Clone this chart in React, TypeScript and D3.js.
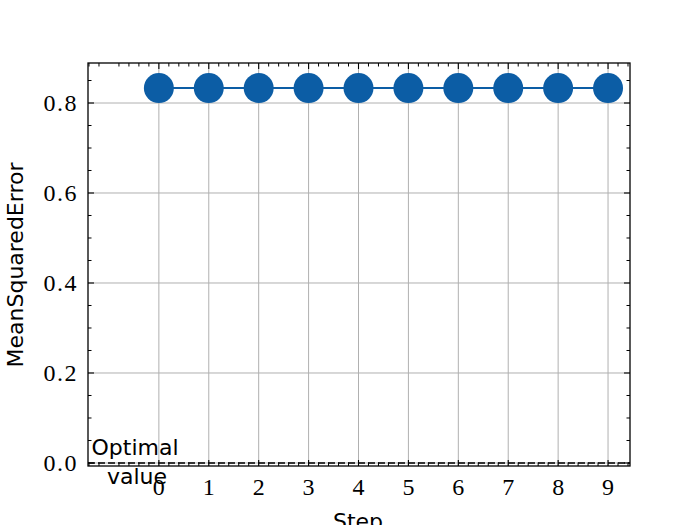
import React from "react";
import * as d3 from "d3";

const steps = [0, 1, 2, 3, 4, 5, 6, 7, 8, 9];
const mseValues = [0.8333, 0.8333, 0.8333, 0.8333, 0.8333, 0.8333, 0.8333, 0.8333, 0.8333, 0.8333];
const yTicks = [0, 0.2, 0.4, 0.6, 0.8];
const optimalValue = 0;

const W = 700, H = 525;
const L = 88, R = 630, T = 63, B = 466;
const COLOR = "#0C5DA5";

export default function App() {
  const x = d3.scaleLinear().domain([-1.42, 9.44]).range([L, R]);
  const y = d3.scaleLinear().domain([-0.0067, 0.8889]).range([B, T]);
  const line = d3.line<number>().x((_, i) => x(steps[i])).y((d) => y(d));

  const xMinor = d3.range(-7, 48).map((k) => k * 0.2).filter((v) => Math.abs(v - Math.round(v)) > 1e-6 && v > -1.42 && v < 9.44);
  const yMinor = d3.range(0, 18).map((k) => k * 0.05).filter((v) => Math.abs(v * 5 - Math.round(v * 5)) > 1e-6 && v < 0.8889);

  const serif = "'Liberation Serif', serif";
  const sans = "'DejaVu Sans', sans-serif";

  return (
    <svg width={W} height={H} style={{ position: "absolute", left: 0, top: 0 }}>
      <rect width={W} height={H} fill="white" />
      {/* grid */}
      {steps.map((s) => (
        <line key={"gx" + s} x1={x(s)} x2={x(s)} y1={T} y2={B} stroke="#b0b0b0" strokeWidth={1} />
      ))}
      {yTicks.map((t) => (
        <line key={"gy" + t} x1={L} x2={R} y1={y(t)} y2={y(t)} stroke="#b0b0b0" strokeWidth={1} />
      ))}
      {/* optimal line */}
      <line x1={L} x2={R} y1={y(optimalValue)} y2={y(optimalValue)} stroke="black" strokeWidth={1.6} strokeDasharray="7,3" />
      <text x={135} y={455} fontFamily={sans} fontSize={22} textAnchor="middle">Optimal</text>
      <text x={137} y={484} fontFamily={sans} fontSize={22} textAnchor="middle">value</text>
      {/* data */}
      <path d={line(mseValues) || ""} fill="none" stroke={COLOR} strokeWidth={2} />
      {mseValues.map((v, i) => (
        <circle key={i} cx={x(steps[i])} cy={y(v)} r={15} fill={COLOR} />
      ))}
      {/* frame */}
      <rect x={L} y={T} width={R - L} height={B - T} fill="none" stroke="black" strokeWidth={1.3} />
      {/* ticks */}
      {steps.map((s) => (
        <g key={"tx" + s}>
          <line x1={x(s)} x2={x(s)} y1={B} y2={B - 6} stroke="black" strokeWidth={1.1} />
          <line x1={x(s)} x2={x(s)} y1={T} y2={T + 6} stroke="black" strokeWidth={1.1} />
          <text x={x(s)} y={495} fontFamily={serif} fontSize={24} textAnchor="middle">{s}</text>
        </g>
      ))}
      {xMinor.map((s) => (
        <g key={"mx" + s}>
          <line x1={x(s)} x2={x(s)} y1={B} y2={B - 3.5} stroke="black" strokeWidth={1} />
          <line x1={x(s)} x2={x(s)} y1={T} y2={T + 3.5} stroke="black" strokeWidth={1} />
        </g>
      ))}
      {yTicks.map((t) => (
        <g key={"ty" + t}>
          <line x1={L} x2={L + 6} y1={y(t)} y2={y(t)} stroke="black" strokeWidth={1.1} />
          <line x1={R} x2={R - 6} y1={y(t)} y2={y(t)} stroke="black" strokeWidth={1.1} />
          <text x={78} y={y(t) + 8} fontFamily={serif} fontSize={24} textAnchor="end" letterSpacing={1.5}>{t.toFixed(1)}</text>
        </g>
      ))}
      {yMinor.map((t) => (
        <g key={"my" + t}>
          <line x1={L} x2={L + 3.5} y1={y(t)} y2={y(t)} stroke="black" strokeWidth={1} />
          <line x1={R} x2={R - 3.5} y1={y(t)} y2={y(t)} stroke="black" strokeWidth={1} />
        </g>
      ))}
      <text x={358} y={529} fontFamily={sans} fontSize={22} textAnchor="middle">Step</text>
      <text transform="translate(23,265) rotate(-90)" fontFamily={sans} fontSize={22} textAnchor="middle">MeanSquaredError</text>
    </svg>
  );
}
